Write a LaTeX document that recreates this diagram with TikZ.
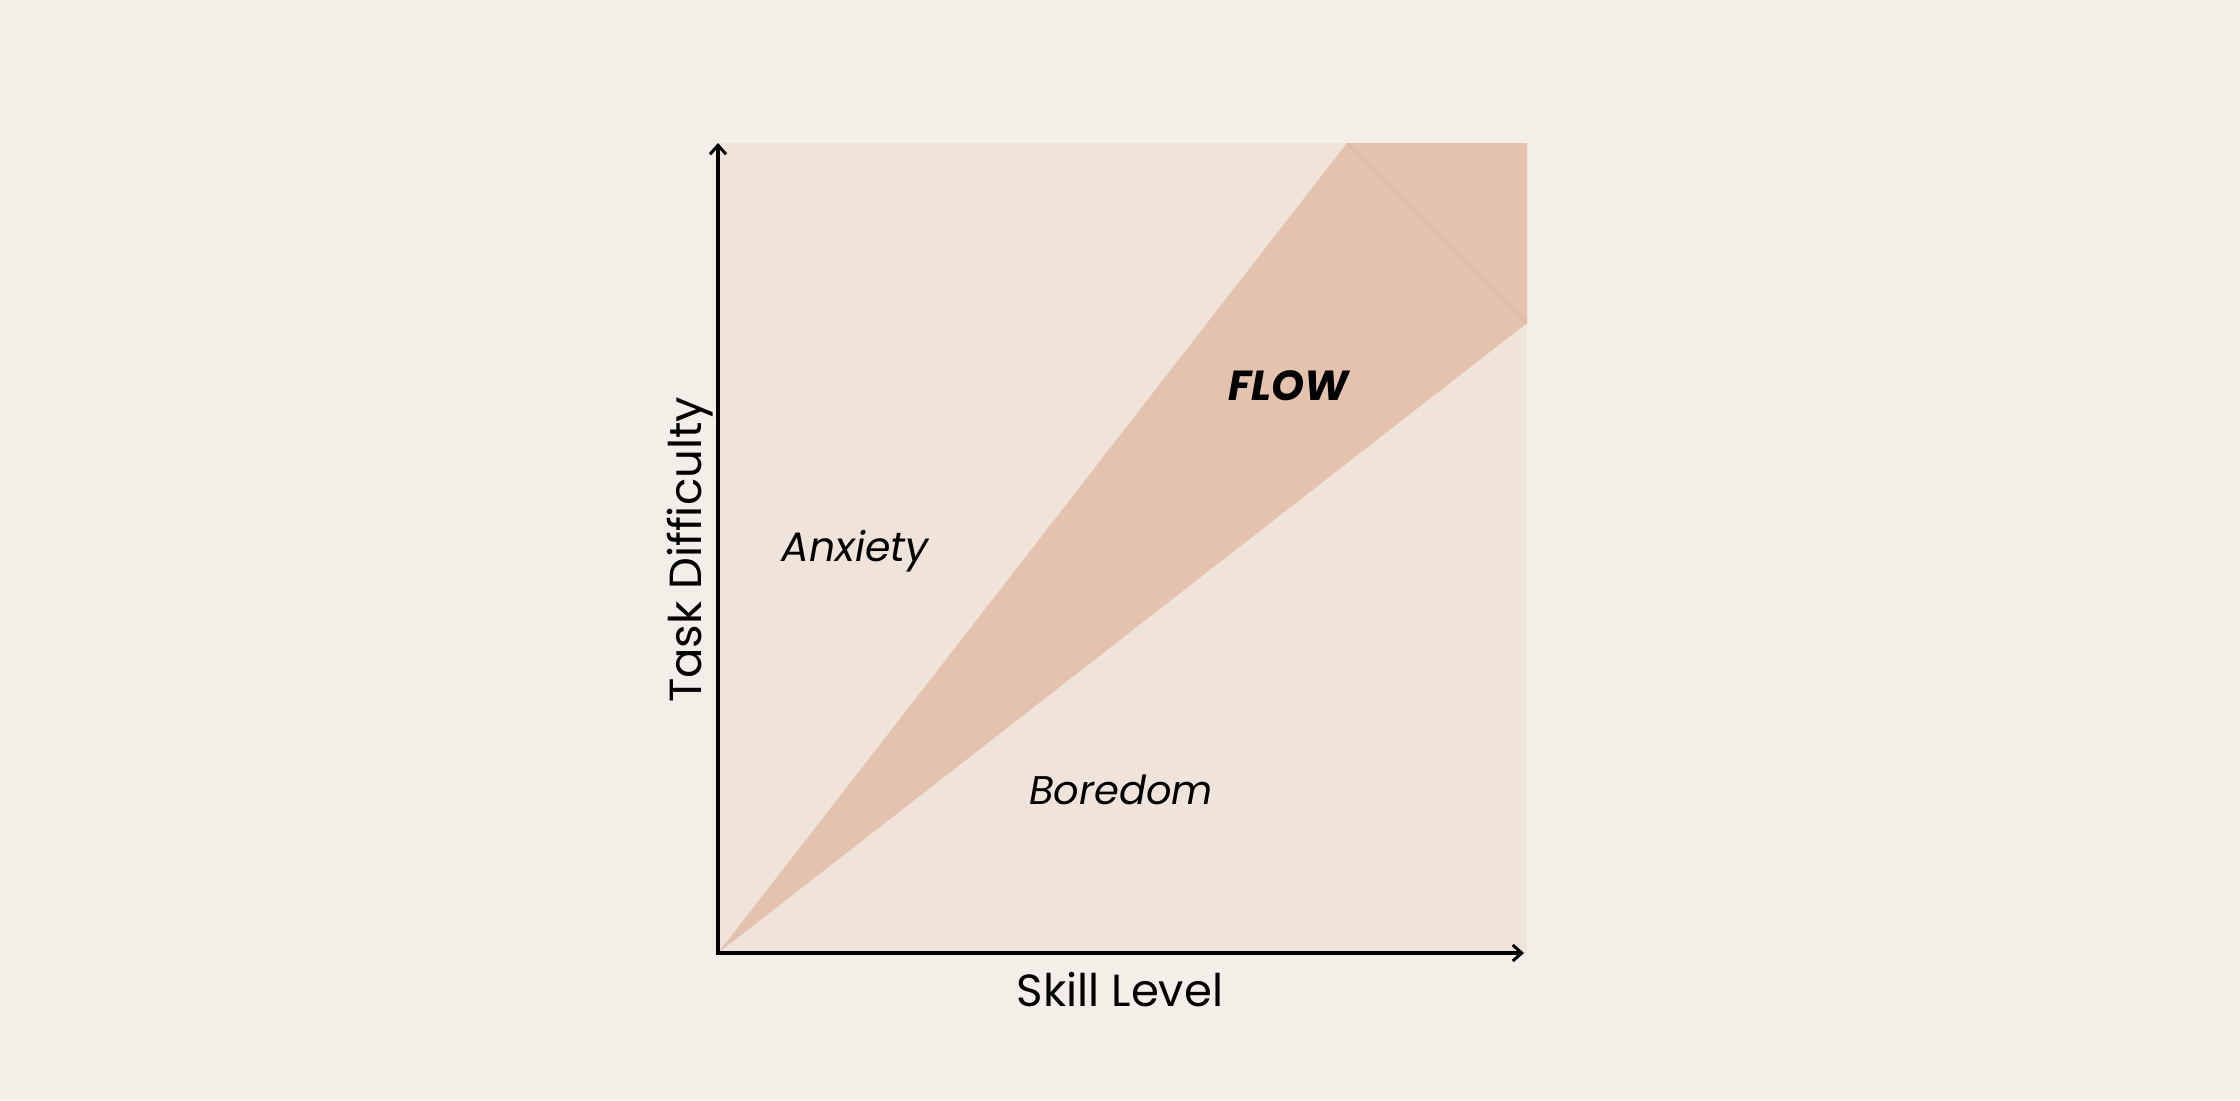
\documentclass[tikz,border=0pt]{standalone}
\usepackage{fontspec}
\setmainfont{Poppins}
\usetikzlibrary{arrows.meta}
\definecolor{bgc}{HTML}{F3EEE8}
\definecolor{sqc}{HTML}{F0E3DA}
\definecolor{flowc}{HTML}{E4C3AE}
\definecolor{flowline}{HTML}{DDB8A2}
\tikzset{
  axis/.style={line width=1.8pt, -{Straight Barb[length=4.5pt,width=8pt,line width=1.5pt]}},
  region/.style={font=\fontsize{20.5}{24}\selectfont\itshape, text=black, inner sep=0pt},
  axlabel/.style={font=\fontsize{22.5}{26}\selectfont, text=black, inner sep=0pt},
}
\begin{document}
\begin{tikzpicture}[x=0.5pt,y=-0.5pt]
\fill[bgc] (0,0) rectangle (2240,1100);
\useasboundingbox (0,0) rectangle (2240,1100);
\coordinate (O) at (718,953);
\coordinate (TL) at (718,143);
\coordinate (BR) at (1527,953);
\coordinate (P1) at (1347,143);
\coordinate (P2) at (1527,143);
\coordinate (P3) at (1527,323);
\fill[sqc] (TL) rectangle (BR);
\fill[flowc] (O) -- (P1) -- (P2) -- (P3) -- cycle;
\draw[flowline, line width=0.6pt] (P1) -- (P3);
\coordinate (YT) at (718,143);
\coordinate (XE) at (1524,953);
\draw[axis, line cap=rect] (O) -- (YT);
\draw[axis, line cap=rect] (O) -- (XE);
\node[region] (anx) at (855,551) {Anxiety};
\node[region, font=\fontsize{20}{24}\selectfont\itshape] (bor) at (1121,790) {Boredom};
\node[region, font=\fontsize{21}{24}\selectfont\bfseries\itshape] (flow) at (1289,386) {FLOW};
\node[axlabel] (skill) at (1120,990) {Skill Level};
\node[axlabel, rotate=90] (task) at (690,550) {Task Difficulty};
\end{tikzpicture}
\end{document}
